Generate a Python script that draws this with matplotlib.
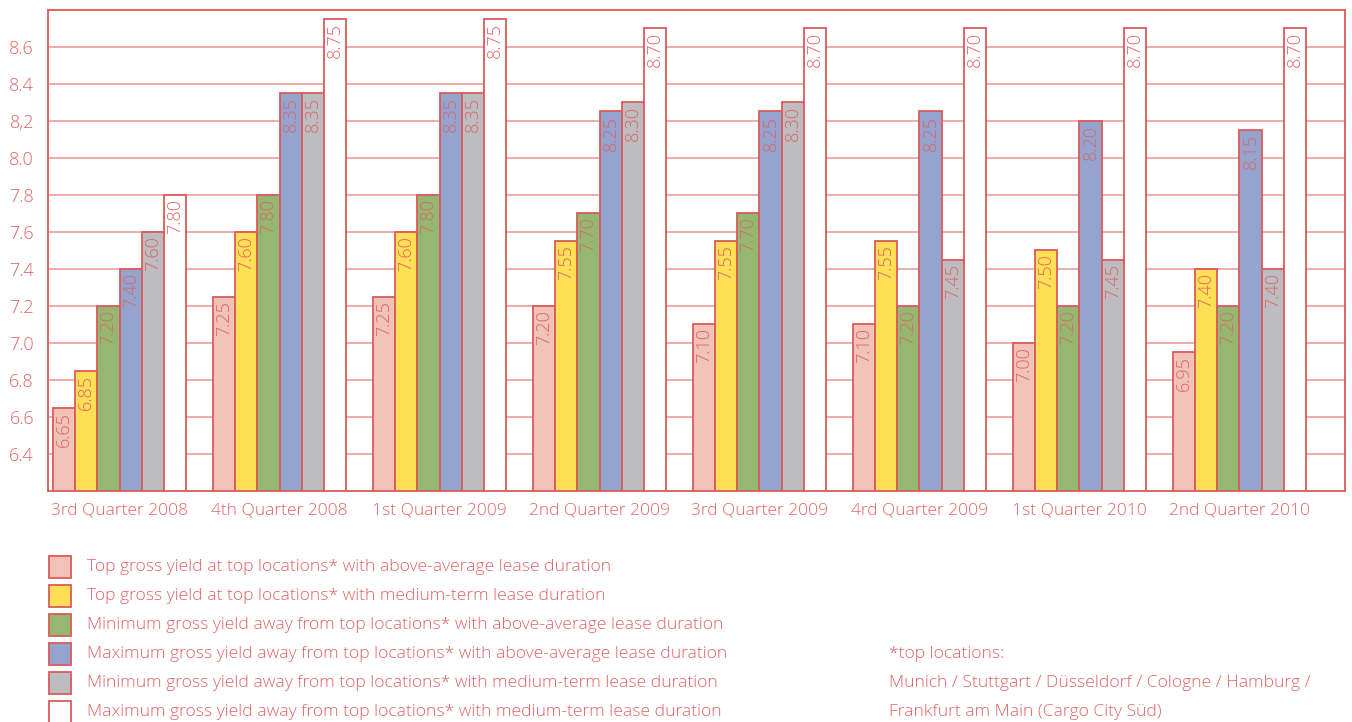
import matplotlib
matplotlib.use("Agg")
import matplotlib.pyplot as plt
from matplotlib.patches import Rectangle
import numpy as np

# Quarterly yield data (percent)
quarters = ["3rd Quarter 2008", "4th Quarter 2008", "1st Quarter 2009", "2nd Quarter 2009",
            "3rd Quarter 2009", "4rd Quarter 2009", "1st Quarter 2010", "2nd Quarter 2010"]

top_above_avg = [6.65, 7.25, 7.25, 7.20, 7.10, 7.10, 7.00, 6.95]
top_medium = [6.85, 7.60, 7.60, 7.55, 7.55, 7.55, 7.50, 7.40]
min_away_above_avg = [7.20, 7.80, 7.80, 7.70, 7.70, 7.20, 7.20, 7.20]
max_away_above_avg = [7.40, 8.35, 8.35, 8.25, 8.25, 8.25, 8.20, 8.15]
min_away_medium = [7.60, 8.35, 8.35, 8.30, 8.30, 7.45, 7.45, 7.40]
max_away_medium = [7.80, 8.75, 8.75, 8.70, 8.70, 8.70, 8.70, 8.70]

series_names = [
    "Top gross yield at top locations* with above-average lease duration",
    "Top gross yield at top locations* with medium-term lease duration",
    "Minimum gross yield away from top locations* with above-average lease duration",
    "Maximum gross yield away from top locations* with above-average lease duration",
    "Minimum gross yield away from top locations* with medium-term lease duration",
    "Maximum gross yield away from top locations* with medium-term lease duration",
]

y_ticks = [6.4, 6.6, 6.8, 7.0, 7.2, 7.4, 7.6, 7.8, 8.0, 8.2, 8.4, 8.6]
y_tick_labels = ["6.4", "6.6", "6.8", "7.0", "7.2", "7.4", "7.6", "7.8", "8.0", "8,2", "8.4", "8.6"]

footnote = ["*top locations:",
            "Munich / Stuttgart / Düsseldorf / Cologne / Hamburg /",
            "Frankfurt am Main (Cargo City Süd)"]

series = [top_above_avg, top_medium, min_away_above_avg,
          max_away_above_avg, min_away_medium, max_away_medium]
colors = ["#f0c2b8", "#ffdf55", "#94b872", "#94a4cf", "#bdbdc1", "#ffffff"]

RED = "#dc5a5a"
TEXT = "#e06464"
GRID = "#eca6a6"

plt.rcParams["font.family"] = ["Open Sans", "DejaVu Sans"]
plt.rcParams["font.weight"] = "light"

W, H = 1352, 722
fig = plt.figure(figsize=(W / 100, H / 100), dpi=100)
ax = fig.add_axes([48 / W, 1 - 491 / H, (1345 - 48) / W, (491 - 9.5) / H])

ymin, ymax = 6.2, 8.8
n_series = len(series)
group_span = 0.8333
bw = group_span / n_series
x = np.arange(len(quarters))

for k, (vals, col) in enumerate(zip(series, colors)):
    xs = x - group_span / 2 + bw * (k + 0.5)
    vals = np.asarray(vals)
    ax.bar(xs, vals - ymin, bottom=ymin, width=bw, color=col,
           edgecolor=RED, linewidth=1.3, zorder=3)
    for xi, v in zip(xs, vals):
        ax.annotate(f"{v:.2f}", xy=(xi, v), xytext=(0, -3), textcoords="offset points",
                    rotation=90, ha="center", va="top", fontsize=13,
                    color=TEXT, zorder=4)

ax.set_xlim(-group_span / 2 - 5 / 160, len(quarters) - 1 + group_span / 2 + 39 / 160)
ax.set_ylim(ymin, ymax)
ax.set_yticks(y_ticks)
ax.set_yticklabels(y_tick_labels)
ax.set_xticks(x)
ax.set_xticklabels(quarters)
ax.tick_params(axis="both", length=0, labelsize=12.5, labelcolor=TEXT)
ax.tick_params(axis="y", pad=10, labelsize=13)
ax.tick_params(axis="x", pad=8)
ax.yaxis.grid(True, color=GRID, linewidth=1.3, zorder=0)
ax.set_axisbelow(True)
for sp in ax.spines.values():
    sp.set_color(RED)
    sp.set_linewidth(1.3)

# Legend drawn in figure pixel coordinates
row_y = [567, 596, 625, 654, 683, 712]
for name, col, yy in zip(series_names, colors, row_y):
    fig.patches.append(Rectangle((49 / W, 1 - (yy + 11) / H), 22 / W, 22 / H,
                                 transform=fig.transFigure, facecolor=col,
                                 edgecolor=RED, linewidth=1.3))
    fig.text(87 / W, 1 - yy / H, name, ha="left", va="center",
             fontsize=12.6, color=TEXT)

for line, yy in zip(footnote, row_y[3:]):
    fig.text(889 / W, 1 - yy / H, line, ha="left", va="center",
             fontsize=12.6, color=TEXT)

fig.savefig("out.png", dpi=100)
